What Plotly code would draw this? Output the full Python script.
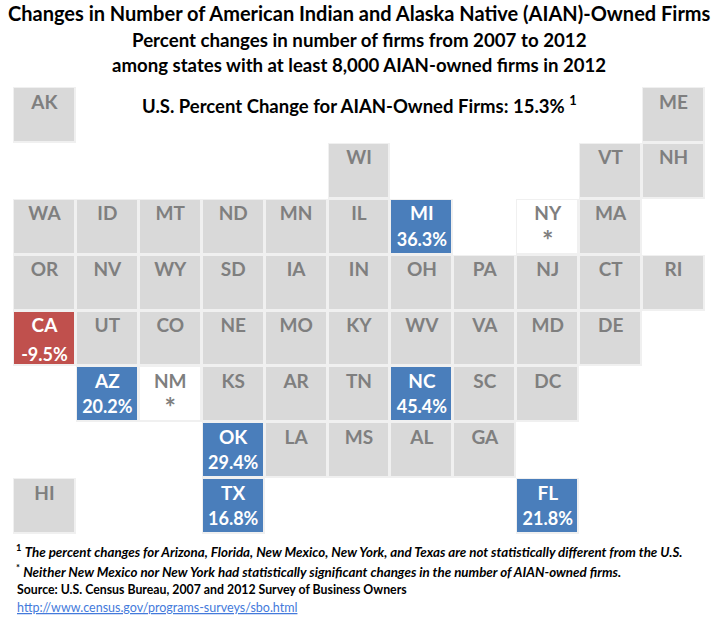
import numpy as np
import plotly.graph_objects as go

# tile grid map, states by row/column
states = ["AK","ME","WI","VT","NH",
          "WA","ID","MT","ND","MN","IL","MI","NY","MA",
          "OR","NV","WY","SD","IA","IN","OH","PA","NJ","CT","RI",
          "CA","UT","CO","NE","MO","KY","WV","VA","MD","DE",
          "AZ","NM","KS","AR","TN","NC","SC","DC",
          "OK","LA","MS","AL","GA",
          "HI","TX","FL"]
cols = [0,10,5,9,10,
        0,1,2,3,4,5,6,8,9,
        0,1,2,3,4,5,6,7,8,9,10,
        0,1,2,3,4,5,6,7,8,9,
        1,2,3,4,5,6,7,8,
        3,4,5,6,7,
        0,3,8]
rows = [0,0,1,1,1,
        2,2,2,2,2,2,2,2,2,
        3,3,3,3,3,3,3,3,3,3,3,
        4,4,4,4,4,4,4,4,4,4,
        5,5,5,5,5,5,5,5,
        6,6,6,6,6,
        7,7,7]
changes = {"MI":36.3,"CA":-9.5,"AZ":20.2,"NC":45.4,"OK":29.4,"TX":16.8,"FL":21.8}
not_significant = ["NY","NM"]

GREY = "#d9d9d9"
BLUE = "#4a7ebb"
RED = "#c0504d"
HALO = "#f0f0f0"
LABEL = "#7f7f7f"
FONT = "Lato"

W, H = 715, 620
L, R, T, B = 12.5, 9.5, 86.5, 85.5

z = np.full((8, 11), np.nan)
halo = np.full((8, 11), np.nan)
for s, c, r in zip(states, cols, rows):
    halo[r][c] = 1
    if s in not_significant:
        z[r][c] = 0
    elif s in changes:
        z[r][c] = 2 if changes[s] > 0 else 3
    else:
        z[r][c] = 1

fig = go.Figure()
fig.add_trace(go.Heatmap(z=halo, zmin=0, zmax=1, colorscale=[[0, HALO], [1, HALO]],
                         showscale=False, hoverinfo="skip"))
fig.add_trace(go.Heatmap(z=z, xgap=3, ygap=3, zmin=0, zmax=3, showscale=False, hoverinfo="skip",
                         colorscale=[[0, "white"], [0.25, "white"], [0.25, GREY], [0.5, GREY],
                                     [0.5, BLUE], [0.75, BLUE], [0.75, RED], [1, RED]]))

# state abbreviations
fig.add_trace(go.Scatter(x=cols, y=[r - 0.2 for r in rows], mode="text", text=states,
                         textfont=dict(family=FONT, size=19, weight="bold",
                                       color=["white" if s in changes else LABEL for s in states]),
                         hoverinfo="skip", showlegend=False))
# percent values, CA sits a little lower in the original
fig.add_trace(go.Scatter(x=[cols[states.index(s)] for s in changes],
                         y=[rows[states.index(s)] + (0.32 if s == "CA" else 0.26) for s in changes],
                         mode="text", text=[f"{v}%" for v in changes.values()],
                         textfont=dict(family=FONT, size=18, weight="bold", color="white"),
                         hoverinfo="skip", showlegend=False))
# asterisks for the states without a significant change
fig.add_trace(go.Scatter(x=[cols[states.index(s)] for s in not_significant],
                         y=[rows[states.index(s)] + 0.29 for s in not_significant],
                         mode="text", text=["*" for s in not_significant],
                         textfont=dict(family=FONT, size=27, weight="bold", color=LABEL),
                         hoverinfo="skip", showlegend=False))


def label(text, px, py, size, anchor="center", bold=True, color="black"):
    fig.add_annotation(text=f"<b>{text}</b>" if bold else text, showarrow=False,
                       xref="paper", yref="paper", xanchor=anchor, yanchor="middle",
                       x=(px - L) / (W - L - R), y=1 - (py - T) / (H - T - B),
                       font=dict(family=FONT, size=size, color=color))


label("Changes in Number of American Indian and Alaska Native (AIAN)-Owned Firms", 359, 12, 20)
label("Percent changes in number of firms from 2007 to 2012", 359, 39, 18.7)
label("among states with at least 8,000 AIAN-owned firms in 2012", 359, 64, 18.6)
label("U.S. Percent Change for AIAN-Owned Firms: 15.3% <sup>1</sup>", 359, 104, 18.5)
label("<sup>1</sup> <i>The percent changes for Arizona, Florida, New Mexico, New York, and Texas are not statistically different from the U.S.</i>", 14, 552, 13.35, anchor="left")
label("<sup>*</sup> <i>Neither New Mexico nor New York had statistically significant changes in the number of AIAN-owned firms.</i>", 14, 572, 13.35, anchor="left")
label("Source: U.S. Census Bureau, 2007 and 2012 Survey of Business Owners", 15, 590, 12.3, anchor="left")
label('<a href="http://www.census.gov/programs-surveys/sbo.html"><u>http://www.census.gov/programs-surveys/sbo.html</u></a>',
      15, 608, 12.5, anchor="left", bold=False, color="#0000cc")

fig.update_xaxes(range=[-0.5, 10.5], visible=False, fixedrange=True)
fig.update_yaxes(range=[7.5, -0.5], visible=False, fixedrange=True)
fig.update_layout(width=W, height=H, autosize=False, showlegend=False,
                  margin=dict(l=L, r=R, t=T, b=B),
                  paper_bgcolor="white", plot_bgcolor="white")

fig.write_html("out.html", config={"displayModeBar": False},
               post_script="document.body.style.margin='0';")
